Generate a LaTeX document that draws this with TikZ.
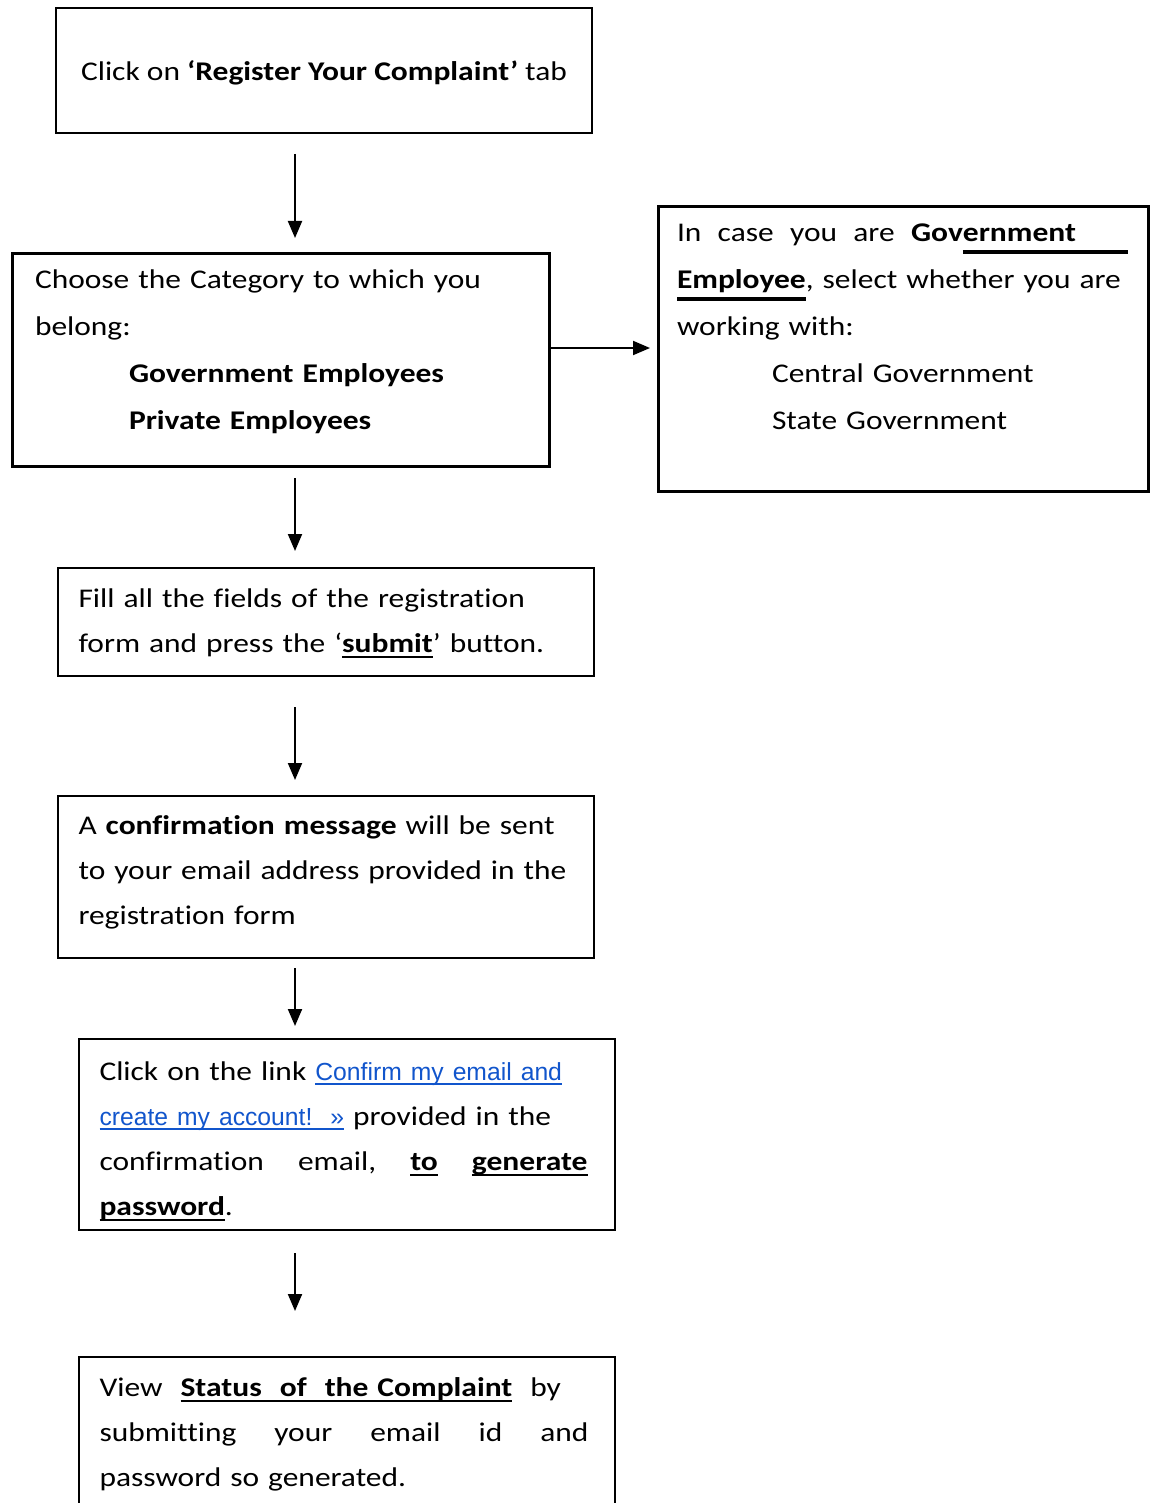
\documentclass[tikz,border=0pt]{standalone}
\usepackage{fontspec}
\setmainfont{Carlito}[Ligatures=NoCommon,FakeStretch=1.165,BoldFont={Carlito Bold},BoldFeatures={FakeStretch=1.168}]
\newfontfamily\linkfont{Liberation Sans}
\usetikzlibrary{arrows.meta}
\tikzset{>={Triangle[length=17pt,width=14pt]}}
\definecolor{linkblue}{RGB}{17,85,204}
\tikzstyle{stepbox}=[draw,line width=2pt,anchor=north west,inner ysep=0pt,align=left,font=\fontsize{27}{45}\selectfont]
\tikzstyle{heavybox}=[stepbox,line width=3pt,font=\fontsize{27}{47}\selectfont]
\tikzstyle{flow}=[->,line width=2pt]
\newcommand{\ulrule}[3]{\setbox0\hbox{#3}\leavevmode\rlap{\rule[-#1]{\wd0}{#2}}\box0}
\newcommand{\ulword}[1]{\ulrule{6pt}{2.5pt}{#1}}
\newcommand{\ulheavy}[1]{\ulrule{12.5pt}{4pt}{#1}}
\newcommand{\ullink}[1]{{\linkfont\fontsize{24.7}{45}\selectfont\color{linkblue}\ulrule{4.5pt}{2pt}{#1}}}

\begin{document}
\begin{tikzpicture}[x=1pt,y=-1pt]
  \useasboundingbox (0,0) rectangle (1151,1503);
  \coordinate (ax) at (295,0);
  \coordinate (hy) at (0,348);

  \node[stepbox,anchor=center,align=center,minimum width=536pt,minimum height=125pt,text height=25pt,text depth=4pt] (register) at (324,70.5) {Click on \textbf{‘Register Your Complaint’} tab};
  \node[heavybox,inner xsep=22.5pt,text width=492pt,text height=35pt,text depth=178pt] (category) at (11,252) {\mbox{Choose the Category to which you}\\ belong:\\ \hspace*{94pt}\textbf{Government Employees}\\ \hspace*{94pt}\textbf{Private Employees}};
  \node[heavybox,inner xsep=18.5pt,text width=453pt,text height=35pt,text depth=250pt] (sector) at (657,205) {\makebox[451pt][l]{In\hfill case\hfill you\hfill are\hfill \textbf{Gov\ulheavy{ernment\hspace{52pt}}}}\\ \mbox{\textbf{\ulheavy{Employee}}, select whether you are}\\ working with:\\ \hspace*{95pt}Central Government\\ \hspace*{95pt}State Government};
  \node[stepbox,inner xsep=20.5pt,text width=495pt,text height=39pt,text depth=69pt] (form) at (57,567) {\mbox{Fill all the fields of the registration}\\ \mbox{form and press the ‘\textbf{\ulword{submit}}’ button.}};
  \node[stepbox,inner xsep=20.5pt,text width=495pt,text height=38pt,text depth=124pt] (confirm) at (57,795) {\mbox{A \textbf{confirmation message} will be sent}\\ \mbox{to your email address provided in the}\\ registration form};
  \node[stepbox,inner xsep=20.5pt,text width=495pt,text height=41pt,text depth=150pt] (link) at (78,1038) {\mbox{Click on the link \ullink{Confirm my email and}}\\ \mbox{\ullink{create my account!\ \ »} provided in the}\\ \makebox[488pt][l]{confirmation\hfill email,\hfill \textbf{\ulword{to}}\hfill \textbf{\ulword{generate}}}\\ \textbf{\ulword{password}}.};
  \node[stepbox,inner xsep=20.5pt,text width=495pt,text height=39pt,text depth=135pt] (status) at (78,1356) {\mbox{View\ \ \textbf{\ulword{Status\ \ of\ \ the Complaint}}\ \ by}\\ \makebox[489pt][l]{submitting\hfill your\hfill email\hfill id\hfill and}\\ password so generated.};

  \draw[flow,shorten <=20pt,shorten >=14pt] (register.south -| ax) -- (category.north -| ax);
  \draw[flow,shorten >=7pt] (category.east |- hy) -- (sector.west |- hy);
  \draw[flow,shorten <=10pt,shorten >=16pt] (category.south -| ax) -- (form.north -| ax);
  \draw[flow,shorten <=30pt,shorten >=15pt] (form.south -| ax) -- (confirm.north -| ax);
  \draw[flow,shorten <=9pt,shorten >=12pt] (confirm.south -| ax) -- (link.north -| ax);
  \draw[flow,shorten <=22pt,shorten >=45pt] (link.south -| ax) -- (status.north -| ax);
\end{tikzpicture}
\end{document}
